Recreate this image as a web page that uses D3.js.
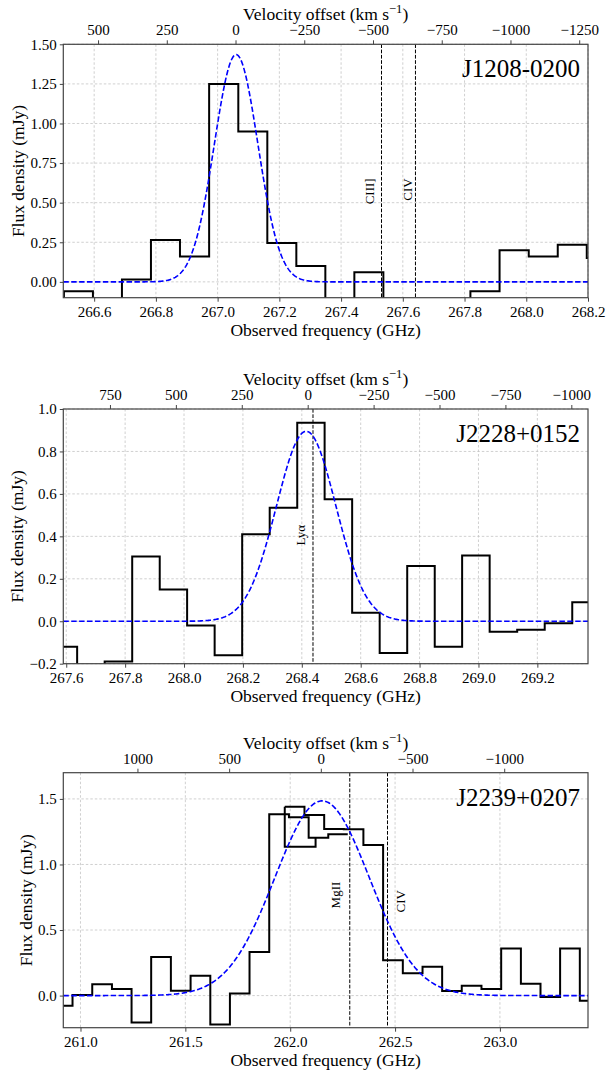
<!DOCTYPE html>
<html><head><meta charset="utf-8">
<script src="https://cdn.jsdelivr.net/npm/d3@7"></script>
<style>
body{margin:0;background:#fff}
svg{display:block;background:#fff}
</style>
</head><body>
<svg id="chart" width="606" height="1073"></svg>
<script>
// ---------------- DATA ----------------
const C_KMS = 299792.458;

// Panel 1 : J1208-0200
const p1Name = "J1208-0200";
const p1Freq = [266.455, 266.549, 266.643, 266.737, 266.831, 266.925, 267.020, 267.114, 267.208, 267.302,
                267.396, 267.490, 267.584, 267.678, 267.772, 267.866, 267.961, 268.055, 268.149, 268.243];
const p1Flux = [-0.15, -0.06, -0.15, 0.015, 0.265, 0.16, 1.25, 0.95, 0.245, 0.10,
                -0.15, 0.06, -0.20, -0.12, -0.18, -0.06, 0.20, 0.16, 0.235, 0.15];
const p1Fit = [1.435, 267.060, 0.0705];          // amplitude (mJy), centre (GHz), sigma (GHz)
const p1VelRef = 267.058;
const p1FreqTicks = [266.6, 266.8, 267.0, 267.2, 267.4, 267.6, 267.8, 268.0, 268.2];
const p1FluxTicks = [0.00, 0.25, 0.50, 0.75, 1.00, 1.25, 1.50];
const p1VelTicks = [500, 250, 0, -250, -500, -750, -1000, -1250];
const p1LineNames = ["CIII]", "CIV"];
const p1LineFreq = [267.531, 267.641];

// Panel 2 : J2228+0152
const p2Name = "J2228+0152";
const p2Freq = [267.590, 267.684, 267.777, 267.871, 267.964, 268.057, 268.151, 268.244, 268.338, 268.431,
                268.524, 268.618, 268.711, 268.805, 268.898, 268.991, 269.085, 269.178, 269.272, 269.365];
const p2Flux = [-0.12, -0.25, -0.19, 0.305, 0.15, -0.02, -0.16, 0.41, 0.535, 0.935,
                0.575, 0.04, -0.15, 0.26, -0.12, 0.31, -0.05, -0.04, -0.01, 0.09];
const p2Fit = [0.895, 268.415, 0.101];
const p2VelRef = 268.420;
const p2FreqTicks = [267.6, 267.8, 268.0, 268.2, 268.4, 268.6, 268.8, 269.0, 269.2];
const p2FluxTicks = [-0.2, 0.0, 0.2, 0.4, 0.6, 0.8, 1.0];
const p2VelTicks = [750, 500, 250, 0, -250, -500, -750, -1000];
const p2LineNames = ["Lyα"];
const p2LineFreq = [268.438];

// Panel 3 : J2239+0207 (two overlapping spectral windows)
const p3Name = "J2239+0207";
const p3aFreq = [260.915, 261.009, 261.103, 261.197, 261.290, 261.384, 261.478, 261.572, 261.666, 261.759,
                 261.853, 261.947, 262.041, 262.135, 262.228];
const p3aFlux = [-0.078, 0.005, 0.087, 0.051, -0.206, 0.295, 0.036, 0.152, -0.221, 0.015,
                 0.333, 1.383, 1.36, 1.204, 1.23];
const p3bFreq = [262.021, 262.115, 262.209, 262.302, 262.396, 262.490, 262.584, 262.678, 262.771, 262.865,
                 262.959, 263.053, 263.147, 263.240, 263.334, 263.428];
const p3bFlux = [1.44, 1.378, 1.27, 1.268, 1.148, 0.27, 0.17, 0.22, 0.035, 0.075,
                 0.05, 0.36, 0.09, -0.01, 0.36, -0.04];
const p3cEdges = [261.974, 261.974, 262.121, 262.121];
const p3cFlux = [1.44, 1.136, 1.204];
const p3Fit = [1.485, 262.152, 0.225];
const p3VelRef = 262.146;
const p3FreqTicks = [261.0, 261.5, 262.0, 262.5, 263.0];
const p3FluxTicks = [0.0, 0.5, 1.0, 1.5];
const p3VelTicks = [1000, 500, 0, -500, -1000];
const p3LineNames = ["MgII", "CIV"];
const p3LineFreq = [262.284, 262.464];

// ---------------- LAYOUT ----------------
const W = 606, H = 1073;
const FONT = "Liberation Serif";
const plotLeft = 63.3, plotRight = 588;
const layout = [
  {top: 44.3, bottom: 297.7, xDom: [266.5, 268.2], yDom: [-0.1, 1.5], yFmt: ".2f",
   labels: [{dx: -7.5, top: 134}, {dx: -3.5, top: 134}]},
  {top: 409, bottom: 663.7, xDom: [267.59, 269.372], yDom: [-0.2, 1.0], yFmt: ".1f",
   labels: [{dx: -8, top: 116}]},
  {top: 772.7, bottom: 1027.7, xDom: [260.918, 263.42], yDom: [-0.245, 1.70], yFmt: ".1f",
   labels: [{dx: -9.5, top: 109}, {dx: 17.5, top: 117.3}]}
];

function edgesFromCenters(c) {
  const e = [];
  e.push(c[0] - (c[1] - c[0]) / 2);
  for (let i = 0; i < c.length - 1; i++) e.push((c[i] + c[i + 1]) / 2);
  e.push(c[c.length - 1] + (c[c.length - 1] - c[c.length - 2]) / 2);
  return e;
}

const panels = [
  {name: p1Name, series: [{edges: edgesFromCenters(p1Freq), flux: p1Flux}], fit: p1Fit, velRef: p1VelRef,
   xTicks: p1FreqTicks, yTicks: p1FluxTicks, vTicks: p1VelTicks, lineNames: p1LineNames, lineFreq: p1LineFreq},
  {name: p2Name, series: [{edges: edgesFromCenters(p2Freq), flux: p2Flux}], fit: p2Fit, velRef: p2VelRef,
   xTicks: p2FreqTicks, yTicks: p2FluxTicks, vTicks: p2VelTicks, lineNames: p2LineNames, lineFreq: p2LineFreq},
  {name: p3Name, series: [{edges: edgesFromCenters(p3aFreq), flux: p3aFlux},
                          {edges: edgesFromCenters(p3bFreq), flux: p3bFlux},
                          {edges: p3cEdges, flux: p3cFlux}],
   fit: p3Fit, velRef: p3VelRef,
   xTicks: p3FreqTicks, yTicks: p3FluxTicks, vTicks: p3VelTicks, lineNames: p3LineNames, lineFreq: p3LineFreq}
];

const svg = d3.select("#chart");
svg.append("rect").attr("width", W).attr("height", H).attr("fill", "#fff");
const spineColor = "#444";

function txt(sel) { return sel.style("font-family", FONT).attr("fill", "#000"); }

panels.forEach((p, i) => {
  const L = layout[i];
  const x = d3.scaleLinear().domain(L.xDom).range([plotLeft, plotRight]);
  const y = d3.scaleLinear().domain(L.yDom).range([L.bottom, L.top]);
  const vel = f => C_KMS * (p.velRef - f) / p.velRef;
  const v = d3.scaleLinear().domain([vel(L.xDom[0]), vel(L.xDom[1])]).range([plotLeft, plotRight]);

  const g = svg.append("g");
  const clipId = "clip" + i;
  g.append("clipPath").attr("id", clipId).append("rect")
    .attr("x", plotLeft).attr("y", L.top).attr("width", plotRight - plotLeft).attr("height", L.bottom - L.top);

  // grid
  const grid = g.append("g").attr("stroke", "#c4c4c4").attr("stroke-width", 0.8).attr("stroke-dasharray", "2.5,2");
  p.xTicks.forEach(t => grid.append("line").attr("x1", x(t)).attr("x2", x(t)).attr("y1", L.top).attr("y2", L.bottom));
  p.yTicks.forEach(t => grid.append("line").attr("x1", plotLeft).attr("x2", plotRight).attr("y1", y(t)).attr("y2", y(t)));

  const plot = g.append("g").attr("clip-path", `url(#${clipId})`);

  // vertical line markers
  p.lineFreq.forEach(f => {
    plot.append("line").attr("x1", x(f)).attr("x2", x(f)).attr("y1", L.top).attr("y2", L.bottom)
      .attr("stroke", "#000").attr("stroke-width", 1).attr("stroke-dasharray", "3.7,1.6");
  });

  // step spectra
  p.series.forEach(s => {
    let d = `M${x(s.edges[0])},${y(s.flux[0])}`;
    for (let k = 0; k < s.flux.length; k++) {
      if (k > 0) d += `V${y(s.flux[k])}`;
      d += `H${x(s.edges[k + 1])}`;
    }
    plot.append("path").attr("d", d).attr("fill", "none").attr("stroke", "#000")
      .attr("stroke-width", 2).attr("stroke-linejoin", "miter");
  });

  // gaussian fit
  const [amp, cen, sig] = p.fit;
  const xs = d3.range(0, 601).map(k => L.xDom[0] + (L.xDom[1] - L.xDom[0]) * k / 600);
  const line = d3.line().x(f => x(f)).y(f => y(amp * Math.exp(-0.5 * ((f - cen) / sig) ** 2)));
  plot.append("path").attr("d", line(xs)).attr("fill", "none").attr("stroke", "#0000ff")
    .attr("stroke-width", 1.6).attr("stroke-dasharray", "5.5,2.4");

  // line labels
  p.lineNames.forEach((n, k) => {
    const lx = x(p.lineFreq[k]) + L.labels[k].dx;
    const ly = L.top + L.labels[k].top;
    g.append("text").attr("transform", `translate(${lx},${ly}) rotate(-90)`)
      .attr("text-anchor", "end").attr("font-size", 13).text(n).call(txt);
  });

  // spines
  g.append("rect").attr("x", plotLeft).attr("y", L.top).attr("width", plotRight - plotLeft)
    .attr("height", L.bottom - L.top).attr("fill", "none").attr("stroke", spineColor).attr("stroke-width", 1.2);

  // axes
  const styleAxis = sel => {
    sel.attr("font-family", null).attr("font-size", null);
    sel.select(".domain").remove();
    sel.selectAll(".tick line").attr("stroke", spineColor).attr("stroke-width", 1);
    sel.selectAll(".tick text").attr("font-size", 15).call(txt);
  };
  g.append("g").attr("transform", `translate(0,${L.bottom})`)
    .call(d3.axisBottom(x).tickValues(p.xTicks).tickFormat(d3.format(".1f")).tickSize(4).tickPadding(5))
    .call(styleAxis);
  const yAx = g.append("g").attr("transform", `translate(${plotLeft},0)`)
    .call(d3.axisLeft(y).tickValues(p.yTicks).tickFormat(d3.format(L.yFmt)).tickSize(3.5).tickPadding(3))
    .call(styleAxis);
  g.append("g").attr("transform", `translate(0,${L.top})`)
    .call(d3.axisTop(v).tickValues(p.vTicks).tickFormat(d3.format("d")).tickSize(4).tickPadding(5))
    .call(styleAxis);

  // axis titles
  g.append("text").attr("x", (plotLeft + plotRight) / 2).attr("y", L.bottom + 38)
    .attr("text-anchor", "middle").attr("font-size", 17.5).text("Observed frequency (GHz)").call(txt);
  const vt = g.append("text").attr("x", (plotLeft + plotRight) / 2).attr("y", L.top - 24)
    .attr("text-anchor", "middle").attr("font-size", 17.5).call(txt);
  vt.append("tspan").text("Velocity offset (km s");
  vt.append("tspan").attr("dy", -7).attr("font-size", 12.5).text("−1");
  vt.append("tspan").attr("dy", 7).text(")");

  let minX = plotLeft;
  yAx.selectAll(".tick text").each(function () { const b = this.getBBox(); minX = Math.min(minX, plotLeft + b.x); });
  const ylx = minX - 6.5;
  g.append("text").attr("transform", `translate(${ylx},${(L.top + L.bottom) / 2}) rotate(-90)`)
    .attr("text-anchor", "middle").attr("font-size", 17.5).text("Flux density (mJy)").call(txt);

  // source name
  g.append("text").attr("x", plotRight - 8).attr("y", L.top + 33).attr("text-anchor", "end")
    .attr("font-size", 25).text(p.name).call(txt);
});
</script>
</body></html>
